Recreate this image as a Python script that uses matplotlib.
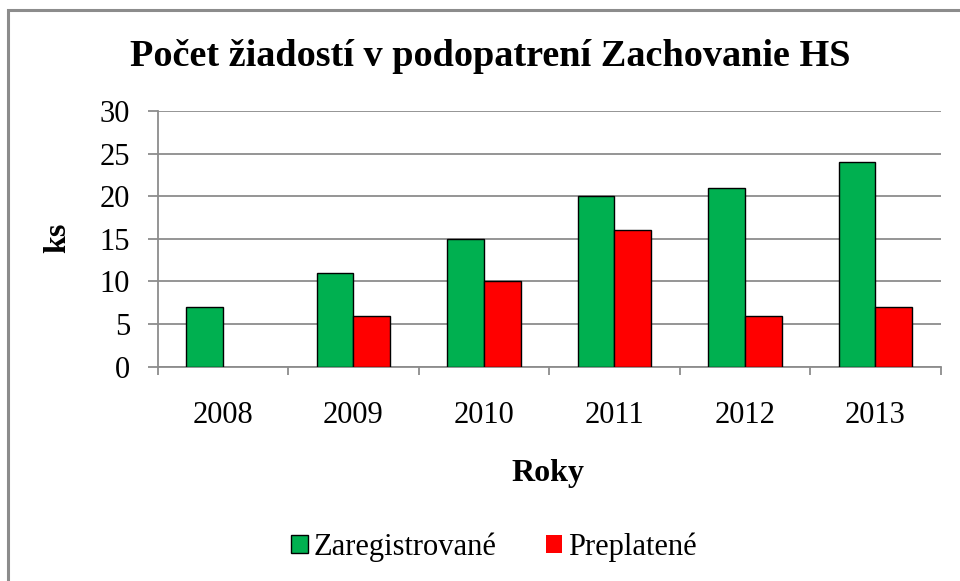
import matplotlib
matplotlib.use("Agg")
import matplotlib.pyplot as plt
import numpy as np
from matplotlib.patches import Rectangle

years = ["2008", "2009", "2010", "2011", "2012", "2013"]
zaregistrovane = [7, 11, 15, 20, 21, 24]
preplatene = [0, 6, 10, 16, 6, 7]
yticks = [0, 5, 10, 15, 20, 25, 30]

plt.rcParams['font.family'] = ['Liberation Serif', 'DejaVu Serif']

fig = plt.figure(figsize=(9.6, 5.81), dpi=100)
ax = fig.add_axes([157.7/960, 1-366.7/581, (940.7-157.7)/960, (366.7-111)/581])

x = np.arange(len(years))
w = 0.283
ax.bar(x - w/2, zaregistrovane, w, color="#00B050", edgecolor="black",
       linewidth=[1.0 if v > 0 else 0 for v in zaregistrovane], label="Zaregistrované", zorder=3)
ax.bar(x + w/2, preplatene, w, color="#FF0000", edgecolor="black",
       linewidth=[1.0 if v > 0 else 0 for v in preplatene], label="Preplatené", zorder=3)

ax.set_xlim(-0.5, len(years) - 0.5)
ax.set_ylim(0, 30)
ax.set_yticks(yticks)
ax.set_yticklabels([str(v) for v in yticks], fontsize=22)
ax.yaxis.grid(True, color="#8c8c8c", linewidth=1.3, zorder=0)
ax.set_axisbelow(True)

ax.set_xticks(x)
ax.set_xticklabels(years, fontsize=22)
ax.set_xticks(np.arange(-0.5, len(years)), minor=True)
ax.tick_params(axis='x', which='major', length=0, pad=25)
ax.tick_params(axis='x', which='minor', length=5.5, color="#8c8c8c", width=1.3, direction='out')
ax.tick_params(axis='y', length=7, color="#8c8c8c", width=1.3, direction='out', pad=13)

for s in ['top', 'right']:
    ax.spines[s].set_visible(False)
for s in ['left', 'bottom']:
    ax.spines[s].set_color("#8c8c8c")
    ax.spines[s].set_linewidth(1.3)

fig.text(58/960, 1-238/581, "ks", rotation=90, fontsize=23, fontweight='bold', ha='center', va='center')
fig.text(548/960, 1-473/581, "Roky", fontsize=23, fontweight='bold', ha='center', va='center')
fig.text(490/960, 1-57/581, "Počet žiadostí v podopatrení Zachovanie HS", fontsize=27.5, fontweight='bold', ha='center', va='center')

leg = fig.legend(loc='center', bbox_to_anchor=(494/960, 1-547/581), ncol=2, frameon=False,
                 fontsize=22, handlelength=0.55, handleheight=0.55, handletextpad=0.2, columnspacing=1.6)

fig.patches.append(Rectangle((8/960, -0.1), 1.2, 1.1 - 10/581, transform=fig.transFigure,
                             fill=False, edgecolor="#8c8c8c", linewidth=2.2))

fig.savefig("out.png", dpi=100)
